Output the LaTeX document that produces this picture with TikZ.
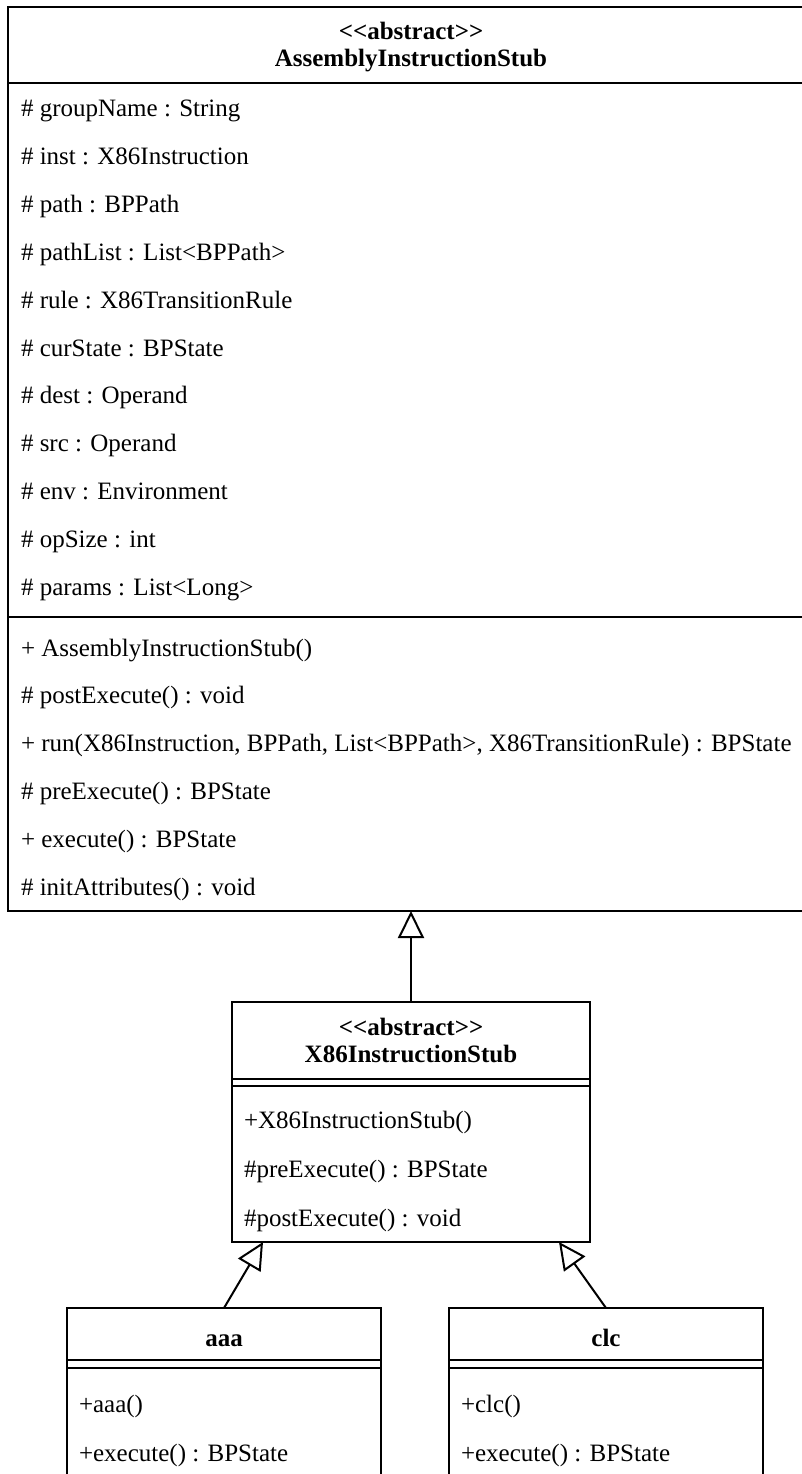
\documentclass[tikz,border=0pt]{standalone}
\usepackage{fontspec}
\setmainfont{Liberation Serif}
\usetikzlibrary{arrows.meta,calc}
\newcommand\dlt{<\kern0pt<}
\newcommand\dgt{>\kern0pt>}
\begin{document}
\begin{tikzpicture}[x=1pt,y=-1pt,line width=2pt,
  classbox/.style={draw,rectangle,anchor=north west,inner sep=0pt,outer sep=0pt},
  member/.style={anchor=base west,inner sep=0pt,font=\fontsize{25}{30}\selectfont},
  ctitle/.style={anchor=base,inner sep=0pt,font=\fontsize{25}{30}\selectfont\bfseries},
  inherit/.style={-{Triangle[length=27pt,width=26pt,fill=white,line join=miter]},line width=2pt}]
\useasboundingbox (0,0) rectangle (802,1474);
\clip (0,0) rectangle (802,1474);

% ---------- AssemblyInstructionStub ----------
\node[classbox,minimum width=806pt,minimum height=904pt] (abs) at (8,7) {};
\node[ctitle] (absst) at (411,39.5) {\dlt abstract\dgt};
\node[ctitle] (absnm) at (411,66.5) {AssemblyInstructionStub};
\draw[line width=2.5pt] (8,83) -- (814,83);
\node[member] (a1) at (20,117) {\# groupName : String};
\node[member] (a2) at (20,164.8) {\# inst : X86Instruction};
\node[member] (a3) at (20,212.6) {\# path : BPPath};
\node[member] (a4) at (20,260.4) {\# pathList : List<BPPath>};
\node[member] (a5) at (20,308.2) {\# rule : X86TransitionRule};
\node[member] (a6) at (20,356) {\# curState : BPState};
\node[member] (a7) at (20,403.8) {\# dest : Operand};
\node[member] (a8) at (20,451.6) {\# src : Operand};
\node[member] (a9) at (20,499.4) {\# env : Environment};
\node[member] (a10) at (20,547.2) {\# opSize : int};
\node[member] (a11) at (20,595) {\# params : List<Long>};
\draw[line width=2.5pt] (8,617) -- (814,617);
\node[member] (m1) at (20,656) {+ AssemblyInstructionStub()};
\node[member] (m2) at (20,703.8) {\# postExecute() : void};
\node[member] (m3) at (20,751.6) {+ run(X86Instruction, BPPath, List<BPPath>, X86TransitionRule) : BPState};
\node[member] (m4) at (20,799.4) {\# preExecute() : BPState};
\node[member] (m5) at (20,847.2) {+ execute() : BPState};
\node[member] (m6) at (20,895) {\# initAttributes() : void};

% ---------- X86InstructionStub ----------
\node[classbox,minimum width=358pt,minimum height=240pt] (x86) at (232,1002) {};
\node[ctitle] (xst) at (411,1035) {\dlt abstract\dgt};
\node[ctitle] (xnm) at (411,1062) {X86InstructionStub};
\draw (232,1079) -- (590,1079);
\draw (232,1086) -- (590,1086);
\node[member] (x1) at (243,1128) {+X86InstructionStub()};
\node[member] (x2) at (243,1177) {\#preExecute() : BPState};
\node[member] (x3) at (243,1226) {\#postExecute() : void};

% ---------- aaa ----------
\node[classbox,minimum width=314pt,minimum height=200pt] (aaa) at (67,1308) {};
\node[ctitle] (aaanm) at (224,1346) {aaa};
\draw (67,1360) -- (381,1360);
\draw (67,1368) -- (381,1368);
\node[member] (aaa1) at (78,1412) {+aaa()};
\node[member] (aaa2) at (78,1461) {+execute() : BPState};

% ---------- clc ----------
\node[classbox,minimum width=314pt,minimum height=200pt] (clc) at (449,1308) {};
\node[ctitle] (clcnm) at (606,1346) {clc};
\draw (449,1360) -- (763,1360);
\draw (449,1368) -- (763,1368);
\node[member] (clc1) at (460,1412) {+clc()};
\node[member] (clc2) at (460,1461) {+execute() : BPState};

% ---------- generalizations ----------
\coordinate (t1) at ($(x86.south west)+(31,0)$);
\coordinate (t2) at ($(x86.south east)+(-31,0)$);
\draw[inherit] (x86.north) -- (abs.south);
\draw[inherit] (aaa.north) -- (t1);
\draw[inherit] (clc.north) -- (t2);
\end{tikzpicture}
\end{document}
